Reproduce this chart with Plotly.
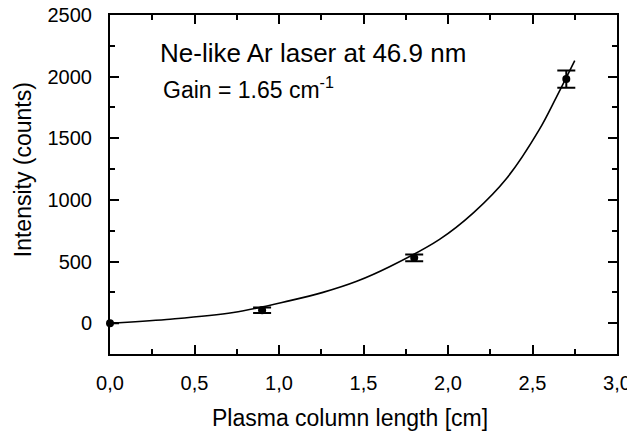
import plotly.graph_objects as go

# Measured data points
length_cm = [0.0, 0.9, 1.8, 2.7]
intensity = [0, 105, 530, 1980]
intensity_err = [None, 22, 28, 70]

# Fitted gain curve
fit_length = [0.0, 0.335, 0.73, 1.065, 1.26, 1.46, 1.657, 1.95, 2.15, 2.35, 2.54, 2.64, 2.75]
fit_intensity = [0, 30, 86, 183, 250, 340, 460, 680, 895, 1180, 1570, 1830, 2130]

x_tickvals = [0.0, 0.5, 1.0, 1.5, 2.0, 2.5, 3.0]
x_ticktext = ["0,0", "0,5", "1,0", "1,5", "2,0", "2,5", "3,0"]
y_tickvals = [0, 500, 1000, 1500, 2000, 2500]
y_ticktext = ["0", "500", "1000", "1500", "2000", "2500"]

FONT = "Liberation Sans, Arial, Helvetica, sans-serif"

fig = go.Figure()
fig.add_trace(go.Scatter(
    x=fit_length, y=fit_intensity, mode="lines",
    line=dict(color="black", width=1.6, shape="spline", smoothing=1.0),
    showlegend=False, hoverinfo="skip"))
fig.add_trace(go.Scatter(
    x=length_cm, y=intensity, mode="markers",
    marker=dict(color="black", size=8),
    error_y=dict(type="data", array=intensity_err, visible=True,
                 color="black", thickness=2, width=9),
    cliponaxis=False, showlegend=False))

axis_common = dict(
    showgrid=False, zeroline=False, showline=True, linecolor="black",
    linewidth=2, mirror="ticks", ticks="inside", ticklen=9, tickwidth=2,
    tickcolor="black", tickfont=dict(family=FONT, size=20, color="black"),
    automargin=False, ticklabeloverflow="allow",
)
fig.update_xaxes(range=[0, 3], tickvals=x_tickvals, ticktext=x_ticktext,
                 ticklabelstandoff=10,
                 minor=dict(dtick=0.25, ticks="inside", ticklen=5, tickwidth=2,
                            tickcolor="black", showgrid=False),
                 **axis_common)
fig.update_yaxes(range=[-250, 2500], tickvals=y_tickvals, ticktext=y_ticktext,
                 ticklabelstandoff=12,
                 minor=dict(dtick=250, tick0=0, ticks="inside", ticklen=5, tickwidth=2,
                            tickcolor="black", showgrid=False),
                 **axis_common)

fig.add_annotation(x=0.284, y=2191, xref="x", yref="y", xanchor="left", yanchor="middle",
                   text="Ne-like Ar laser at 46.9 nm", showarrow=False,
                   font=dict(family=FONT, size=26, color="black"))
fig.add_annotation(x=0.30, y=1905, xref="x", yref="y", xanchor="left", yanchor="middle",
                   text="Gain = 1.65 cm<sup>-1</sup>", showarrow=False,
                   font=dict(family=FONT, size=23, color="black"))
fig.add_annotation(x=0.473, y=-0.19, xref="paper", yref="paper", xanchor="center",
                   yanchor="middle", text="Plasma column length [cm]", showarrow=False,
                   font=dict(family=FONT, size=23, color="black"))
fig.add_annotation(x=-0.171, y=0.543, xref="paper", yref="paper", xanchor="center",
                   yanchor="middle", text="Intensity (counts)", textangle=-90,
                   showarrow=False, font=dict(family=FONT, size=23, color="black"))

# The page body adds an 8px offset, so the figure is drawn 8px smaller
fig.update_layout(
    width=627, height=426,
    margin=dict(l=102, r=18, t=7, b=80, autoexpand=False),
    paper_bgcolor="white", plot_bgcolor="white",
    font=dict(family=FONT, color="black"),
)

fig.write_html("out.html")
